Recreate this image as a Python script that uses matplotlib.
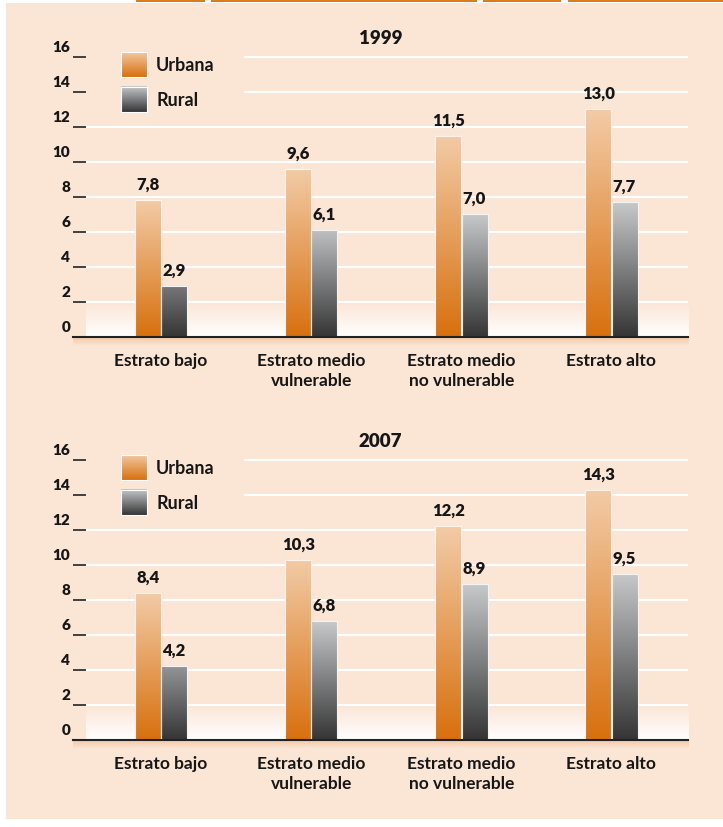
import numpy as np
import matplotlib.pyplot as plt
from matplotlib.colors import to_rgb
from matplotlib.patches import Rectangle

plt.rcParams['font.family'] = ['Lato', 'DejaVu Sans']

categorias = ["Estrato bajo", "Estrato medio\nvulnerable",
              "Estrato medio\nno vulnerable", "Estrato alto"]
urbana_1999 = [7.8, 9.6, 11.5, 13.0]
rural_1999 = [2.9, 6.1, 7.0, 7.7]
urbana_2007 = [8.4, 10.3, 12.2, 14.3]
rural_2007 = [4.2, 6.8, 8.9, 9.5]
ticks = [0, 2, 4, 6, 8, 10, 12, 14, 16]

BG = "#fbe6d6"
TXT = "#161616"
NARANJA = ("#d8700e", "#f3cba6")
GRIS = ("#353535", "#c6c8ca")


def gradiente(c_bot, c_top, n=120, frac=1.0):
    t = np.linspace(0, 1, n) * frac
    t = np.clip(t, 0, 1)[:, None]
    b, a = np.array(to_rgb(c_bot)), np.array(to_rgb(c_top))
    return (b + (a - b) * t).reshape(n, 1, 3)


def barra(ax, patch, colores, span):
    x0, y0 = patch.get_x(), patch.get_y()
    w, h = patch.get_width(), patch.get_height()
    img = gradiente(colores[0], colores[1], frac=h / max(h, span))
    im = ax.imshow(img, extent=[x0, x0 + w, y0, y0 + h], origin="lower",
                   aspect="auto", interpolation="bilinear", zorder=2)
    im.set_clip_path(patch)


def grafico(ax, titulo, urbana, rural):
    x = np.arange(len(categorias))
    w = 0.173
    xlim = (-0.587, 3.513)
    ylim = (0, 16.3)

    # banda clara sobre la base
    x_ini = xlim[0] + 0.021 * (xlim[1] - xlim[0])
    ax.imshow(gradiente("#ffffff", BG), extent=[x_ini, xlim[1], 0, 2],
              origin="lower", aspect="auto", interpolation="bilinear", zorder=0.6)

    # lineas de referencia blancas (cortadas bajo la leyenda)
    for v in ticks[1:]:
        xmin = 0.28 if v >= 14 else 0.021
        ax.axhline(v, xmin=xmin, xmax=1, color="white", lw=1.5, zorder=0.8)

    bu = ax.bar(x - w / 2 - 0.002, urbana, w, facecolor="none",
                edgecolor="#fff3ea", lw=0.8, zorder=3)
    br = ax.bar(x + w / 2 + 0.002, rural, w, facecolor="none",
                edgecolor="#f4f4f4", lw=0.8, zorder=3)
    for p in bu:
        barra(ax, p, NARANJA, 0)
    for p in br:
        barra(ax, p, GRIS, 6.5)

    for xs, vals in ((x - w / 2, urbana), (x + w / 2, rural)):
        for xi, v in zip(xs, vals):
            ax.annotate(f"{v:.1f}".replace(".", ","), xy=(xi, v), xytext=(0, 6),
                        textcoords="offset points", ha="center", va="bottom",
                        fontsize=12, fontweight="heavy", color=TXT)

    # sombra bajo la linea base
    sh = ax.imshow(gradiente(BG, "#f3c9a6"), extent=[0, 1, -0.03, 0],
                   transform=ax.transAxes, origin="lower", aspect="auto",
                   interpolation="bilinear", zorder=0.5)
    sh.set_clip_on(False)

    # leyenda
    for (y0, y1), col, lab in (((0.911, 0.999), NARANJA, "Urbana"),
                               ((0.789, 0.877), GRIS, "Rural")):
        ax.imshow(gradiente(col[0], col[1]), extent=[0.078, 0.120, y0, y1],
                  transform=ax.transAxes, origin="lower", aspect="auto",
                  interpolation="bilinear", zorder=3)
        ax.add_patch(Rectangle((0.078, y0), 0.042, y1 - y0, transform=ax.transAxes,
                               facecolor="none", edgecolor="white", lw=0.8, zorder=4))
        ax.text(0.135, (y0 + y1) / 2, lab, transform=ax.transAxes, ha="left",
                va="center", fontsize=13, fontweight="bold", color=TXT)

    ax.set_xlim(*xlim)
    ax.set_ylim(*ylim)
    ax.set_facecolor(BG)
    for s in ("left", "right", "top"):
        ax.spines[s].set_visible(False)
    ax.spines["bottom"].set_color("#222222")
    ax.spines["bottom"].set_linewidth(1.5)
    ax.spines["bottom"].set_zorder(5)

    ax.set_yticks(ticks)
    ax.tick_params(axis="y", direction="in", length=9.5, width=1.3,
                   color="#333333", labelleft=False)
    for v in ticks:
        ax.annotate(str(v), xy=(0, v), xycoords=("axes fraction", "data"),
                    xytext=(-2, 3), textcoords="offset points", ha="right",
                    va="bottom", fontsize=11, fontweight="heavy", color=TXT)

    ax.set_xticks(x)
    ax.set_xticklabels(categorias, fontsize=12.5, fontweight="bold", color=TXT,
                       linespacing=1.3)
    ax.tick_params(axis="x", length=0, pad=11)
    ax.set_title(titulo, fontsize=13.5, fontweight="heavy", color=TXT, pad=6)


fig = plt.figure(figsize=(7.23, 8.28), dpi=100, facecolor="white")
fig.patches.append(Rectangle((6 / 723, 8 / 828), 1, 816 / 828,
                             transform=fig.transFigure, facecolor=BG,
                             edgecolor="none", zorder=-10))
for a, b in ((136, 205), (211, 477), (483, 561), (568, 723)):
    fig.patches.append(Rectangle((a / 723, 1 - 3 / 828), (b - a) / 723, 3 / 828,
                                 transform=fig.transFigure, facecolor="#e07b1a",
                                 edgecolor="none", zorder=-9))

ax1 = fig.add_axes([0.101, 0.5918, 0.851, 0.3445])
ax2 = fig.add_axes([0.101, 0.1051, 0.851, 0.3445])
grafico(ax1, "1999", urbana_1999, rural_1999)
grafico(ax2, "2007", urbana_2007, rural_2007)

fig.savefig("out.png", dpi=100, facecolor=fig.get_facecolor())
